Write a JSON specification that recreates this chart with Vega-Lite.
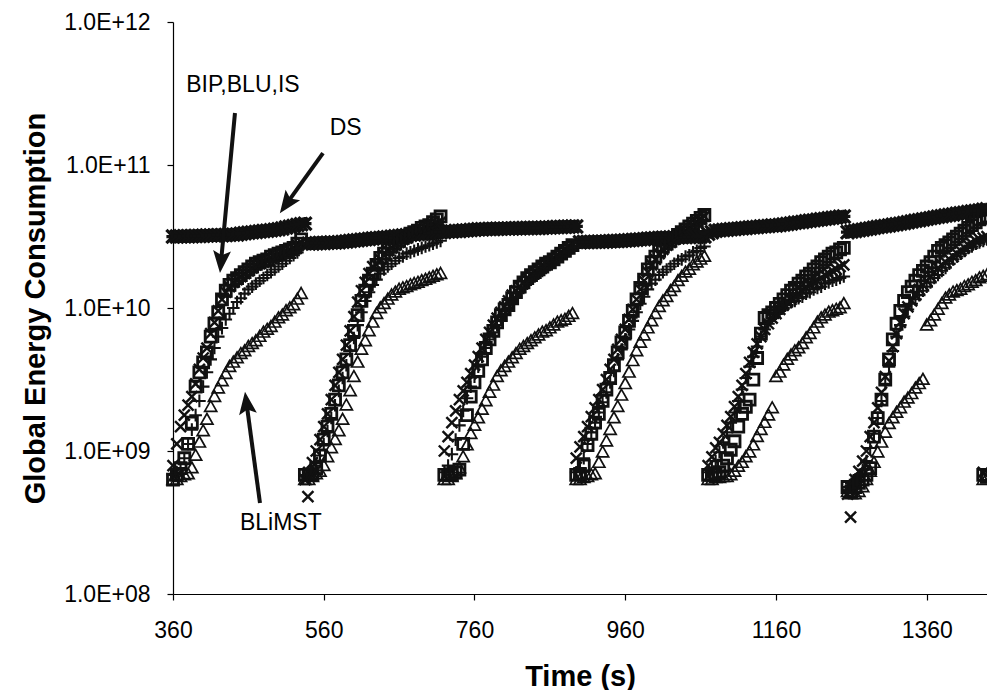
{
  "$schema": "https://vega.github.io/schema/vega-lite/v6.json",
  "width": 814,
  "height": 572,
  "autosize": {"type": "none"},
  "padding": {"left": 173, "top": 22, "right": 0, "bottom": 96},
  "background": "white",
  "config": {
    "view": {"stroke": null},
    "font": "Liberation Sans",
    "axis": {"domainColor": "#000", "tickColor": "#000", "labelColor": "#000", "titleColor": "#000", "labelFont": "Liberation Sans", "titleFont": "Liberation Sans", "grid": false, "tickSize": 6, "domainWidth": 1.2, "tickWidth": 1.2}
  },
  "layer": [
    {
      "data": {"values": [
        {"t":360,"DS":3.16e10,"BIP":6.3e8,"BLU":7.9e8,"IS":6.8e8,"BLiMST":6.3e8},
        {"t":365,"DS":3.16e10,"BIP":6.8e8,"BLU":1.12e9,"IS":7.1e8,"BLiMST":6.3e8},
        {"t":370,"DS":3.17e10,"BIP":7.6e8,"BLU":1.48e9,"IS":7.6e8,"BLiMST":6.6e8},
        {"t":375,"DS":3.17e10,"BIP":8.9e8,"BLU":1.78e9,"IS":8.9e8,"BLiMST":6.8e8},
        {"t":380,"DS":3.18e10,"BIP":1.12e9,"BLU":2.09e9,"IS":1.12e9,"BLiMST":6.9e8},
        {"t":385,"DS":3.18e10,"BIP":1.58e9,"BLU":2.4e9,"IS":1.41e9,"BLiMST":7.6e8},
        {"t":390,"DS":3.19e10,"BIP":2.82e9,"BLU":2.95e9,"IS":1.78e9,"BLiMST":9.3e8},
        {"t":395,"DS":3.19e10,"BIP":3.55e9,"BLU":3.72e9,"IS":2.24e9,"BLiMST":1.15e9},
        {"t":400,"DS":3.2e10,"BIP":4.17e9,"BLU":4.47e9,"IS":2.82e9,"BLiMST":1.38e9},
        {"t":405,"DS":3.21e10,"BIP":4.9e9,"BLU":5.25e9,"IS":3.55e9,"BLiMST":1.66e9},
        {"t":410,"DS":3.22e10,"BIP":6.3e9,"BLU":6.61e9,"IS":4.37e9,"BLiMST":2.04e9},
        {"t":415,"DS":3.22e10,"BIP":7.76e9,"BLU":7.94e9,"IS":5.25e9,"BLiMST":2.4e9},
        {"t":420,"DS":3.23e10,"BIP":9.33e9,"BLU":9.55e9,"IS":6.31e9,"BLiMST":2.75e9},
        {"t":425,"DS":3.23e10,"BIP":1.15e10,"BLU":1.15e10,"IS":7.24e9,"BLiMST":3.09e9},
        {"t":430,"DS":3.24e10,"BIP":1.32e10,"BLU":1.29e10,"IS":8.32e9,"BLiMST":3.47e9},
        {"t":435,"DS":3.25e10,"BIP":1.45e10,"BLU":1.41e10,"IS":9.12e9,"BLiMST":3.89e9},
        {"t":440,"DS":3.26e10,"BIP":1.55e10,"BLU":1.51e10,"IS":1.0e10,"BLiMST":4.17e9},
        {"t":445,"DS":3.27e10,"BIP":1.62e10,"BLU":1.58e10,"IS":1.1e10,"BLiMST":4.47e9},
        {"t":450,"DS":3.31e10,"BIP":1.7e10,"BLU":1.66e10,"IS":1.17e10,"BLiMST":4.79e9},
        {"t":455,"DS":3.33e10,"BIP":1.78e10,"BLU":1.74e10,"IS":1.26e10,"BLiMST":5.01e9},
        {"t":460,"DS":3.36e10,"BIP":1.86e10,"BLU":1.82e10,"IS":1.35e10,"BLiMST":5.37e9},
        {"t":465,"DS":3.38e10,"BIP":1.95e10,"BLU":1.91e10,"IS":1.41e10,"BLiMST":5.62e9},
        {"t":470,"DS":3.4e10,"BIP":2.04e10,"BLU":2.0e10,"IS":1.48e10,"BLiMST":5.89e9},
        {"t":475,"DS":3.43e10,"BIP":2.09e10,"BLU":2.04e10,"IS":1.55e10,"BLiMST":6.31e9},
        {"t":480,"DS":3.45e10,"BIP":2.14e10,"BLU":2.09e10,"IS":1.62e10,"BLiMST":6.76e9},
        {"t":485,"DS":3.47e10,"BIP":2.19e10,"BLU":2.14e10,"IS":1.7e10,"BLiMST":7.08e9},
        {"t":490,"DS":3.5e10,"BIP":2.29e10,"BLU":2.24e10,"IS":1.78e10,"BLiMST":7.41e9},
        {"t":495,"DS":3.52e10,"BIP":2.34e10,"BLU":2.29e10,"IS":1.86e10,"BLiMST":7.94e9},
        {"t":500,"DS":3.55e10,"BIP":2.4e10,"BLU":2.34e10,"IS":1.95e10,"BLiMST":8.51e9},
        {"t":505,"DS":3.6e10,"BIP":2.45e10,"BLU":2.4e10,"IS":2.04e10,"BLiMST":8.91e9},
        {"t":510,"DS":3.65e10,"BIP":2.51e10,"BLU":2.45e10,"IS":2.14e10,"BLiMST":9.55e9},
        {"t":515,"DS":3.7e10,"BIP":2.57e10,"BLU":2.51e10,"IS":2.24e10,"BLiMST":1.0e10},
        {"t":520,"DS":3.75e10,"BIP":2.63e10,"BLU":2.63e10,"IS":2.34e10,"BLiMST":1.05e10},
        {"t":525,"DS":3.8e10,"BIP":2.82e10,"BLU":2.75e10,"IS":2.45e10,"BLiMST":1.15e10},
        {"t":530,"DS":3.85e10,"BIP":3.02e10,"BLU":2.88e10,"IS":2.63e10,"BLiMST":1.26e10},
        {"t":535,"DS":3.89e10,"BIP":6.8e8,"BLU":6.3e8,"IS":6.8e8,"BLiMST":6.3e8},
        {"t":539,"BLU":4.8e8},
        {"t":540,"DS":2.82e10,"BIP":6.8e8,"BLU":7.1e8,"IS":6.9e8,"BLiMST":6.3e8},
        {"t":545,"DS":2.83e10,"BIP":6.9e8,"BLU":8.3e8,"IS":7.2e8,"BLiMST":6.6e8},
        {"t":550,"DS":2.84e10,"BIP":7.6e8,"BLU":1.0e9,"IS":7.9e8,"BLiMST":6.9e8},
        {"t":555,"DS":2.85e10,"BIP":9.3e8,"BLU":1.2e9,"IS":9.3e8,"BLiMST":7.2e8},
        {"t":560,"DS":2.85e10,"BIP":1.2e9,"BLU":1.48e9,"IS":1.12e9,"BLiMST":7.9e8},
        {"t":565,"DS":2.86e10,"BIP":1.48e9,"BLU":1.82e9,"IS":1.38e9,"BLiMST":9.1e8},
        {"t":570,"DS":2.87e10,"BIP":1.82e9,"BLU":2.29e9,"IS":1.7e9,"BLiMST":1.05e9},
        {"t":575,"DS":2.87e10,"BIP":2.29e9,"BLU":2.88e9,"IS":2.09e9,"BLiMST":1.2e9},
        {"t":580,"DS":2.88e10,"BIP":2.88e9,"BLU":3.55e9,"IS":2.63e9,"BLiMST":1.38e9},
        {"t":585,"DS":2.9e10,"BIP":3.55e9,"BLU":4.37e9,"IS":3.24e9,"BLiMST":1.66e9},
        {"t":590,"DS":2.92e10,"BIP":4.37e9,"BLU":5.5e9,"IS":3.98e9,"BLiMST":2.09e9},
        {"t":595,"DS":2.94e10,"BIP":5.5e9,"BLU":6.92e9,"IS":5.01e9,"BLiMST":2.63e9},
        {"t":600,"DS":2.96e10,"BIP":6.92e9,"BLU":8.71e9,"IS":6.17e9,"BLiMST":3.31e9},
        {"t":605,"DS":2.98e10,"BIP":8.91e9,"BLU":1.1e10,"IS":7.59e9,"BLiMST":4.17e9},
        {"t":610,"DS":3.0e10,"BIP":1.12e10,"BLU":1.32e10,"IS":9.33e9,"BLiMST":5.13e9},
        {"t":615,"DS":3.02e10,"BIP":1.32e10,"BLU":1.51e10,"IS":1.12e10,"BLiMST":5.89e9},
        {"t":620,"DS":3.04e10,"BIP":1.55e10,"BLU":1.74e10,"IS":1.29e10,"BLiMST":6.92e9},
        {"t":625,"DS":3.06e10,"BIP":1.74e10,"BLU":1.95e10,"IS":1.45e10,"BLiMST":7.94e9},
        {"t":630,"DS":3.08e10,"BIP":2.0e10,"BLU":2.0e10,"IS":1.58e10,"BLiMST":9.12e9},
        {"t":635,"DS":3.09e10,"BIP":2.24e10,"BLU":2.19e10,"IS":1.74e10,"BLiMST":1.0e10},
        {"t":640,"DS":3.11e10,"BIP":2.4e10,"BLU":2.34e10,"IS":1.86e10,"BLiMST":1.07e10},
        {"t":645,"DS":3.13e10,"BIP":2.57e10,"BLU":2.51e10,"IS":1.95e10,"BLiMST":1.15e10},
        {"t":650,"DS":3.15e10,"BIP":2.69e10,"BLU":2.63e10,"IS":2.04e10,"BLiMST":1.23e10},
        {"t":655,"DS":3.17e10,"BIP":2.82e10,"BLU":2.75e10,"IS":2.14e10,"BLiMST":1.29e10},
        {"t":660,"DS":3.19e10,"BIP":2.95e10,"BLU":2.88e10,"IS":2.24e10,"BLiMST":1.35e10},
        {"t":665,"DS":3.21e10,"BIP":3.09e10,"BLU":3.02e10,"IS":2.29e10,"BLiMST":1.38e10},
        {"t":670,"DS":3.23e10,"BIP":3.16e10,"BLU":3.09e10,"IS":2.4e10,"BLiMST":1.41e10},
        {"t":675,"DS":3.25e10,"BIP":3.31e10,"BLU":3.24e10,"IS":2.45e10,"BLiMST":1.45e10},
        {"t":680,"DS":3.27e10,"BIP":3.39e10,"BLU":3.31e10,"IS":2.51e10,"BLiMST":1.48e10},
        {"t":685,"DS":3.29e10,"BIP":3.47e10,"BLU":3.39e10,"IS":2.57e10,"BLiMST":1.51e10},
        {"t":690,"DS":3.31e10,"BIP":3.63e10,"BLU":3.55e10,"IS":2.63e10,"BLiMST":1.55e10},
        {"t":695,"DS":3.32e10,"BIP":3.72e10,"BLU":3.63e10,"IS":2.69e10,"BLiMST":1.58e10},
        {"t":700,"DS":3.34e10,"BIP":3.8e10,"BLU":3.72e10,"IS":2.75e10,"BLiMST":1.62e10},
        {"t":705,"DS":3.36e10,"BIP":3.98e10,"BLU":3.8e10,"IS":2.82e10,"BLiMST":1.66e10},
        {"t":710,"DS":3.38e10,"BIP":4.17e10,"BLU":3.89e10,"IS":2.88e10,"BLiMST":1.7e10},
        {"t":715,"DS":3.39e10,"BIP":4.37e10,"BLU":3.98e10,"IS":2.95e10,"BLiMST":1.74e10},
        {"t":720,"DS":3.4e10,"BIP":6.8e8,"BLU":1.0e9,"IS":7.1e8,"BLiMST":6.3e8},
        {"t":725,"DS":3.42e10,"BIP":6.8e8,"BLU":1.26e9,"IS":7.9e8,"BLiMST":6.3e8},
        {"t":730,"DS":3.43e10,"BIP":6.9e8,"BLU":1.58e9,"IS":9.5e8,"BLiMST":6.6e8},
        {"t":735,"DS":3.45e10,"BIP":7.1e8,"BLU":1.91e9,"IS":1.2e9,"BLiMST":6.9e8},
        {"t":740,"DS":3.46e10,"BIP":7.4e8,"BLU":2.29e9,"IS":1.51e9,"BLiMST":7.6e8},
        {"t":745,"DS":3.48e10,"BIP":1.12e9,"BLU":2.63e9,"IS":1.91e9,"BLiMST":9.1e8},
        {"t":750,"DS":3.49e10,"BIP":1.78e9,"BLU":3.02e9,"IS":2.34e9,"BLiMST":1.1e9},
        {"t":755,"DS":3.51e10,"BIP":2.4e9,"BLU":3.47e9,"IS":2.82e9,"BLiMST":1.32e9},
        {"t":760,"DS":3.53e10,"BIP":3.02e9,"BLU":3.98e9,"IS":3.31e9,"BLiMST":1.51e9},
        {"t":765,"DS":3.55e10,"BIP":3.63e9,"BLU":4.57e9,"IS":3.89e9,"BLiMST":1.7e9},
        {"t":770,"DS":3.55e10,"BIP":4.37e9,"BLU":5.25e9,"IS":4.57e9,"BLiMST":1.95e9},
        {"t":775,"DS":3.56e10,"BIP":5.25e9,"BLU":6.03e9,"IS":5.25e9,"BLiMST":2.24e9},
        {"t":780,"DS":3.57e10,"BIP":6.03e9,"BLU":6.76e9,"IS":6.03e9,"BLiMST":2.57e9},
        {"t":785,"DS":3.57e10,"BIP":6.92e9,"BLU":7.59e9,"IS":6.76e9,"BLiMST":2.88e9},
        {"t":790,"DS":3.58e10,"BIP":7.94e9,"BLU":8.51e9,"IS":7.59e9,"BLiMST":3.31e9},
        {"t":795,"DS":3.59e10,"BIP":8.91e9,"BLU":9.33e9,"IS":8.32e9,"BLiMST":3.63e9},
        {"t":800,"DS":3.59e10,"BIP":9.77e9,"BLU":1.02e10,"IS":9.12e9,"BLiMST":3.89e9},
        {"t":805,"DS":3.6e10,"BIP":1.05e10,"BLU":1.12e10,"IS":1.0e10,"BLiMST":4.17e9},
        {"t":810,"DS":3.6e10,"BIP":1.17e10,"BLU":1.23e10,"IS":1.1e10,"BLiMST":4.47e9},
        {"t":815,"DS":3.61e10,"BIP":1.29e10,"BLU":1.32e10,"IS":1.2e10,"BLiMST":4.79e9},
        {"t":820,"DS":3.61e10,"BIP":1.41e10,"BLU":1.41e10,"IS":1.29e10,"BLiMST":5.13e9},
        {"t":825,"DS":3.62e10,"BIP":1.51e10,"BLU":1.51e10,"IS":1.38e10,"BLiMST":5.37e9},
        {"t":830,"DS":3.62e10,"BIP":1.62e10,"BLU":1.62e10,"IS":1.48e10,"BLiMST":5.62e9},
        {"t":835,"DS":3.63e10,"BIP":1.7e10,"BLU":1.7e10,"IS":1.58e10,"BLiMST":5.89e9},
        {"t":840,"DS":3.63e10,"BIP":1.78e10,"BLU":1.78e10,"IS":1.66e10,"BLiMST":6.17e9},
        {"t":845,"DS":3.63e10,"BIP":1.86e10,"BLU":1.86e10,"IS":1.74e10,"BLiMST":6.46e9},
        {"t":850,"DS":3.64e10,"BIP":1.95e10,"BLU":1.95e10,"IS":1.82e10,"BLiMST":6.76e9},
        {"t":855,"DS":3.65e10,"BIP":2.04e10,"BLU":2.04e10,"IS":1.91e10,"BLiMST":6.92e9},
        {"t":860,"DS":3.66e10,"BIP":2.09e10,"BLU":2.09e10,"IS":2.0e10,"BLiMST":7.24e9},
        {"t":865,"DS":3.67e10,"BIP":2.19e10,"BLU":2.19e10,"IS":2.09e10,"BLiMST":7.59e9},
        {"t":870,"DS":3.68e10,"BIP":2.29e10,"BLU":2.29e10,"IS":2.19e10,"BLiMST":7.94e9},
        {"t":875,"DS":3.69e10,"BIP":2.4e10,"BLU":2.4e10,"IS":2.29e10,"BLiMST":8.13e9},
        {"t":880,"DS":3.7e10,"BIP":2.51e10,"BLU":2.51e10,"IS":2.4e10,"BLiMST":8.32e9},
        {"t":885,"DS":3.7e10,"BIP":2.63e10,"BLU":2.63e10,"IS":2.51e10,"BLiMST":8.71e9},
        {"t":890,"DS":3.71e10,"BIP":2.75e10,"BLU":2.75e10,"IS":2.63e10,"BLiMST":9.12e9},
        {"t":895,"DS":3.72e10,"BIP":6.8e8,"BLU":8.9e8,"IS":7.1e8,"BLiMST":6.3e8},
        {"t":900,"DS":2.88e10,"BIP":6.9e8,"BLU":1.07e9,"IS":7.6e8,"BLiMST":6.3e8},
        {"t":905,"DS":2.89e10,"BIP":7.9e8,"BLU":1.26e9,"IS":8.9e8,"BLiMST":6.5e8},
        {"t":910,"DS":2.89e10,"BIP":1.1e9,"BLU":1.48e9,"IS":1.12e9,"BLiMST":6.6e8},
        {"t":915,"DS":2.9e10,"BIP":1.32e9,"BLU":1.74e9,"IS":1.35e9,"BLiMST":6.8e8},
        {"t":920,"DS":2.9e10,"BIP":1.58e9,"BLU":2.0e9,"IS":1.58e9,"BLiMST":6.9e8},
        {"t":925,"DS":2.91e10,"BIP":1.82e9,"BLU":2.29e9,"IS":1.86e9,"BLiMST":8.3e8},
        {"t":930,"DS":2.91e10,"BIP":2.24e9,"BLU":2.69e9,"IS":2.19e9,"BLiMST":9.8e8},
        {"t":935,"DS":2.92e10,"BIP":2.69e9,"BLU":3.16e9,"IS":2.57e9,"BLiMST":1.17e9},
        {"t":940,"DS":2.93e10,"BIP":3.24e9,"BLU":3.72e9,"IS":3.02e9,"BLiMST":1.41e9},
        {"t":945,"DS":2.94e10,"BIP":3.98e9,"BLU":4.37e9,"IS":3.63e9,"BLiMST":1.7e9},
        {"t":950,"DS":2.94e10,"BIP":4.9e9,"BLU":5.13e9,"IS":4.37e9,"BLiMST":2.04e9},
        {"t":955,"DS":2.95e10,"BIP":5.75e9,"BLU":6.03e9,"IS":5.13e9,"BLiMST":2.45e9},
        {"t":960,"DS":2.96e10,"BIP":6.76e9,"BLU":7.08e9,"IS":6.03e9,"BLiMST":2.95e9},
        {"t":965,"DS":2.98e10,"BIP":8.13e9,"BLU":8.32e9,"IS":7.08e9,"BLiMST":3.55e9},
        {"t":970,"DS":2.99e10,"BIP":9.55e9,"BLU":9.77e9,"IS":8.13e9,"BLiMST":4.27e9},
        {"t":975,"DS":3.0e10,"BIP":1.15e10,"BLU":1.15e10,"IS":9.33e9,"BLiMST":5.01e9},
        {"t":980,"DS":3.02e10,"BIP":1.38e10,"BLU":1.35e10,"IS":1.07e10,"BLiMST":5.75e9},
        {"t":985,"DS":3.03e10,"BIP":1.58e10,"BLU":1.55e10,"IS":1.2e10,"BLiMST":6.46e9},
        {"t":990,"DS":3.05e10,"BIP":1.86e10,"BLU":1.78e10,"IS":1.35e10,"BLiMST":7.24e9},
        {"t":995,"DS":3.06e10,"BIP":2.09e10,"BLU":2.0e10,"IS":1.48e10,"BLiMST":8.13e9},
        {"t":1000,"DS":3.08e10,"BIP":2.29e10,"BLU":2.19e10,"IS":1.58e10,"BLiMST":9.12e9},
        {"t":1005,"DS":3.09e10,"BIP":2.51e10,"BLU":2.4e10,"IS":1.7e10,"BLiMST":1.02e10},
        {"t":1010,"DS":3.1e10,"BIP":2.69e10,"BLU":2.57e10,"IS":1.78e10,"BLiMST":1.12e10},
        {"t":1015,"DS":3.1e10,"BIP":2.82e10,"BLU":2.75e10,"IS":1.86e10,"BLiMST":1.2e10},
        {"t":1020,"DS":3.11e10,"BIP":2.95e10,"BLU":2.88e10,"IS":1.95e10,"BLiMST":1.32e10},
        {"t":1025,"DS":3.12e10,"BIP":3.09e10,"BLU":3.02e10,"IS":2.04e10,"BLiMST":1.41e10},
        {"t":1030,"DS":3.12e10,"BIP":3.24e10,"BLU":3.16e10,"IS":2.14e10,"BLiMST":1.55e10},
        {"t":1035,"DS":3.13e10,"BIP":3.39e10,"BLU":3.31e10,"IS":2.19e10,"BLiMST":1.66e10},
        {"t":1040,"DS":3.13e10,"BIP":3.55e10,"BLU":3.47e10,"IS":2.29e10,"BLiMST":1.78e10},
        {"t":1045,"DS":3.14e10,"BIP":3.72e10,"BLU":3.63e10,"IS":2.34e10,"BLiMST":1.86e10},
        {"t":1050,"DS":3.15e10,"BIP":3.89e10,"BLU":3.8e10,"IS":2.45e10,"BLiMST":2.0e10},
        {"t":1055,"DS":3.15e10,"BIP":4.07e10,"BLU":3.98e10,"IS":2.51e10,"BLiMST":2.09e10},
        {"t":1060,"DS":3.16e10,"BIP":4.27e10,"BLU":4.17e10,"IS":2.63e10,"BLiMST":2.19e10},
        {"t":1065,"DS":3.16e10,"BIP":4.47e10,"BLU":4.37e10,"IS":2.69e10,"BLiMST":2.29e10},
        {"t":1070,"DS":3.31e10,"BIP":6.8e8,"BLU":7.9e8,"IS":7.1e8,"BLiMST":6.3e8},
        {"t":1075,"DS":3.39e10,"BIP":6.8e8,"BLU":9.1e8,"IS":7.6e8,"BLiMST":6.3e8},
        {"t":1080,"DS":3.47e10,"BIP":6.9e8,"BLU":1.05e9,"IS":8.5e8,"BLiMST":6.5e8},
        {"t":1085,"DS":3.49e10,"BIP":7.1e8,"BLU":1.15e9,"IS":9.8e8,"BLiMST":6.5e8},
        {"t":1090,"DS":3.51e10,"BIP":7.9e8,"BLU":1.32e9,"IS":1.15e9,"BLiMST":6.6e8},
        {"t":1095,"DS":3.53e10,"BIP":8.9e8,"BLU":1.51e9,"IS":1.35e9,"BLiMST":6.6e8},
        {"t":1100,"DS":3.55e10,"BIP":1.02e9,"BLU":1.74e9,"IS":1.58e9,"BLiMST":6.8e8},
        {"t":1105,"DS":3.57e10,"BIP":1.17e9,"BLU":2.04e9,"IS":1.86e9,"BLiMST":7.2e8},
        {"t":1110,"DS":3.59e10,"BIP":1.48e9,"BLU":2.4e9,"IS":2.24e9,"BLiMST":7.8e8},
        {"t":1115,"DS":3.61e10,"BIP":1.82e9,"BLU":2.88e9,"IS":2.69e9,"BLiMST":8.3e8},
        {"t":1120,"DS":3.63e10,"BIP":2.04e9,"BLU":3.47e9,"IS":3.24e9,"BLiMST":9.1e8},
        {"t":1125,"DS":3.65e10,"BIP":2.29e9,"BLU":4.17e9,"IS":3.89e9,"BLiMST":9.8e8},
        {"t":1130,"DS":3.67e10,"BIP":3.16e9,"BLU":4.9e9,"IS":4.57e9,"BLiMST":1.1e9},
        {"t":1135,"DS":3.69e10,"BIP":4.47e9,"BLU":5.62e9,"IS":5.37e9,"BLiMST":1.26e9},
        {"t":1140,"DS":3.71e10,"BIP":6.61e9,"BLU":6.31e9,"IS":6.31e9,"BLiMST":1.41e9},
        {"t":1145,"DS":3.73e10,"BIP":8.51e9,"BLU":7.08e9,"IS":7.08e9,"BLiMST":1.58e9},
        {"t":1150,"DS":3.75e10,"BIP":8.91e9,"BLU":7.76e9,"IS":7.76e9,"BLiMST":1.78e9},
        {"t":1155,"DS":3.77e10,"BIP":9.33e9,"BLU":8.51e9,"IS":8.51e9,"BLiMST":2.0e9},
        {"t":1160,"DS":3.78e10,"BIP":1.0e10,"BLU":9.12e9,"IS":9.12e9,"BLiMST":3.31e9},
        {"t":1165,"DS":3.8e10,"BIP":1.07e10,"BLU":9.77e9,"IS":9.55e9,"BLiMST":3.55e9},
        {"t":1170,"DS":3.83e10,"BIP":1.15e10,"BLU":1.05e10,"IS":1.0e10,"BLiMST":3.98e9},
        {"t":1175,"DS":3.87e10,"BIP":1.23e10,"BLU":1.1e10,"IS":1.05e10,"BLiMST":4.37e9},
        {"t":1180,"DS":3.9e10,"BIP":1.32e10,"BLU":1.15e10,"IS":1.1e10,"BLiMST":4.68e9},
        {"t":1185,"DS":3.94e10,"BIP":1.38e10,"BLU":1.2e10,"IS":1.12e10,"BLiMST":5.01e9},
        {"t":1190,"DS":3.97e10,"BIP":1.48e10,"BLU":1.26e10,"IS":1.17e10,"BLiMST":5.25e9},
        {"t":1195,"DS":4.0e10,"BIP":1.55e10,"BLU":1.32e10,"IS":1.2e10,"BLiMST":5.62e9},
        {"t":1200,"DS":4.04e10,"BIP":1.66e10,"BLU":1.38e10,"IS":1.26e10,"BLiMST":6.17e9},
        {"t":1205,"DS":4.07e10,"BIP":1.74e10,"BLU":1.45e10,"IS":1.29e10,"BLiMST":6.61e9},
        {"t":1210,"DS":4.1e10,"BIP":1.86e10,"BLU":1.51e10,"IS":1.35e10,"BLiMST":7.24e9},
        {"t":1215,"DS":4.14e10,"BIP":1.95e10,"BLU":1.55e10,"IS":1.38e10,"BLiMST":7.94e9},
        {"t":1220,"DS":4.17e10,"BIP":2.09e10,"BLU":1.62e10,"IS":1.41e10,"BLiMST":8.51e9},
        {"t":1225,"DS":4.2e10,"BIP":2.19e10,"BLU":1.7e10,"IS":1.48e10,"BLiMST":8.91e9},
        {"t":1230,"DS":4.24e10,"BIP":2.29e10,"BLU":1.74e10,"IS":1.51e10,"BLiMST":9.33e9},
        {"t":1235,"DS":4.27e10,"BIP":2.4e10,"BLU":1.82e10,"IS":1.55e10,"BLiMST":9.55e9},
        {"t":1240,"DS":4.3e10,"BIP":2.45e10,"BLU":1.86e10,"IS":1.58e10,"BLiMST":9.77e9},
        {"t":1245,"DS":4.34e10,"BIP":2.57e10,"BLU":1.95e10,"IS":1.62e10,"BLiMST":1.0e10},
        {"t":1250,"DS":4.37e10,"BIP":2.63e10,"BLU":2.0e10,"IS":1.66e10,"BLiMST":1.07e10},
        {"t":1255,"DS":3.39e10,"BIP":5.6e8,"BLU":5.0e8,"IS":5.6e8,"BLiMST":5.2e8},
        {"t":1259,"BLU":3.45e8},
        {"t":1260,"DS":3.43e10,"BIP":5.2e8,"BLU":5.6e8,"IS":5.9e8,"BLiMST":5.0e8},
        {"t":1265,"DS":3.46e10,"BIP":5.6e8,"BLU":6.3e8,"IS":6.3e8,"BLiMST":5.0e8},
        {"t":1270,"DS":3.5e10,"BIP":6.0e8,"BLU":7.2e8,"IS":6.8e8,"BLiMST":5.2e8},
        {"t":1275,"DS":3.53e10,"BIP":6.3e8,"BLU":8.5e8,"IS":7.4e8,"BLiMST":5.6e8},
        {"t":1280,"DS":3.57e10,"BIP":6.8e8,"BLU":1.0e9,"IS":8.5e8,"BLiMST":6.3e8},
        {"t":1285,"DS":3.6e10,"BIP":7.6e8,"BLU":1.26e9,"IS":1.05e9,"BLiMST":7.2e8},
        {"t":1290,"DS":3.64e10,"BIP":1.26e9,"BLU":1.58e9,"IS":1.32e9,"BLiMST":8.3e8},
        {"t":1295,"DS":3.68e10,"BIP":1.7e9,"BLU":2.0e9,"IS":1.7e9,"BLiMST":9.8e8},
        {"t":1300,"DS":3.71e10,"BIP":2.29e9,"BLU":2.57e9,"IS":2.24e9,"BLiMST":1.15e9},
        {"t":1305,"DS":3.75e10,"BIP":3.16e9,"BLU":3.31e9,"IS":2.95e9,"BLiMST":1.35e9},
        {"t":1310,"DS":3.78e10,"BIP":4.37e9,"BLU":4.27e9,"IS":3.89e9,"BLiMST":1.55e9},
        {"t":1315,"DS":3.82e10,"BIP":6.03e9,"BLU":5.37e9,"IS":5.01e9,"BLiMST":1.7e9},
        {"t":1320,"DS":3.85e10,"BIP":7.76e9,"BLU":6.61e9,"IS":6.31e9,"BLiMST":1.86e9},
        {"t":1325,"DS":3.89e10,"BIP":9.55e9,"BLU":7.94e9,"IS":7.59e9,"BLiMST":2.0e9},
        {"t":1330,"DS":3.93e10,"BIP":1.12e10,"BLU":9.12e9,"IS":8.71e9,"BLiMST":2.19e9},
        {"t":1335,"DS":3.98e10,"BIP":1.29e10,"BLU":1.02e10,"IS":9.77e9,"BLiMST":2.34e9},
        {"t":1340,"DS":4.02e10,"BIP":1.41e10,"BLU":1.12e10,"IS":1.07e10,"BLiMST":2.51e9},
        {"t":1345,"DS":4.07e10,"BIP":1.55e10,"BLU":1.23e10,"IS":1.15e10,"BLiMST":2.75e9},
        {"t":1350,"DS":4.11e10,"BIP":1.7e10,"BLU":1.35e10,"IS":1.23e10,"BLiMST":2.95e9},
        {"t":1355,"DS":4.16e10,"BIP":1.82e10,"BLU":1.45e10,"IS":1.32e10,"BLiMST":3.16e9},
        {"t":1360,"DS":4.2e10,"BIP":1.95e10,"BLU":1.55e10,"IS":1.41e10,"BLiMST":7.59e9},
        {"t":1365,"DS":4.25e10,"BIP":2.09e10,"BLU":1.66e10,"IS":1.51e10,"BLiMST":8.13e9},
        {"t":1370,"DS":4.29e10,"BIP":2.29e10,"BLU":1.78e10,"IS":1.62e10,"BLiMST":8.91e9},
        {"t":1375,"DS":4.34e10,"BIP":2.51e10,"BLU":1.91e10,"IS":1.7e10,"BLiMST":9.77e9},
        {"t":1380,"DS":4.38e10,"BIP":2.63e10,"BLU":2.0e10,"IS":1.82e10,"BLiMST":1.07e10},
        {"t":1385,"DS":4.43e10,"BIP":2.75e10,"BLU":2.09e10,"IS":1.91e10,"BLiMST":1.17e10},
        {"t":1390,"DS":4.47e10,"BIP":2.88e10,"BLU":2.19e10,"IS":2.04e10,"BLiMST":1.23e10},
        {"t":1395,"DS":4.51e10,"BIP":3.02e10,"BLU":2.29e10,"IS":2.19e10,"BLiMST":1.29e10},
        {"t":1400,"DS":4.56e10,"BIP":3.16e10,"BLU":2.4e10,"IS":2.29e10,"BLiMST":1.32e10},
        {"t":1405,"DS":4.6e10,"BIP":3.31e10,"BLU":2.51e10,"IS":2.4e10,"BLiMST":1.35e10},
        {"t":1410,"DS":4.64e10,"BIP":3.47e10,"BLU":2.63e10,"IS":2.51e10,"BLiMST":1.41e10},
        {"t":1415,"DS":4.69e10,"BIP":3.63e10,"BLU":2.75e10,"IS":2.63e10,"BLiMST":1.45e10},
        {"t":1420,"DS":4.73e10,"BIP":3.8e10,"BLU":2.82e10,"IS":2.69e10,"BLiMST":1.51e10},
        {"t":1425,"DS":4.77e10,"BIP":3.98e10,"BLU":2.95e10,"IS":2.82e10,"BLiMST":1.55e10},
        {"t":1430,"DS":4.81e10,"BIP":4.17e10,"BLU":3.02e10,"IS":2.88e10,"BLiMST":1.62e10},
        {"t":1435,"DS":4.86e10,"BIP":4.27e10,"BLU":3.09e10,"IS":2.95e10,"BLiMST":1.66e10},
        {"t":1440,"DS":4.9e10,"BIP":4.37e10,"BLU":3.16e10,"IS":3.02e10,"BLiMST":1.7e10},
        {"t":1435,"BIP":6.8e8,"BLU":7.1e8,"BLiMST":6.3e8},
        {"t":1440,"BIP":6.6e8,"BLiMST":6.5e8}
      ]},
      "transform": [
        {"fold": ["DS", "BIP", "BLU", "IS", "BLiMST"], "as": ["series", "energy"]},
        {"filter": "isValid(datum.energy)"}
      ],
      "mark": {"type": "point", "filled": false, "clip": false, "opacity": 1, "size": 121},
      "encoding": {
        "x": {"field": "t", "type": "quantitative", "scale": {"domain": [360, 1440], "nice": false, "zero": false},
          "axis": {"title": "Time (s)", "values": [360, 560, 760, 960, 1160, 1360], "format": "d", "labelFontSize": 23, "labelPadding": 19, "titleFontSize": 29, "titleFontWeight": "bold", "titlePadding": 20, "labelFlush": false, "labelOverlap": false}},
        "y": {"field": "energy", "type": "quantitative", "scale": {"type": "log", "domain": [1e8, 1e12], "nice": false},
          "axis": {"title": "Global Energy Consumption", "values": [1e8, 1e9, 1e10, 1e11, 1e12], "labelExpr": "'1.0E+' + (datum.value < 1e10 ? '0' : '') + format(log(datum.value) / LN10, '.0f')", "labelFontSize": 23, "labelPadding": 17, "titleFontSize": 29, "titleFontWeight": "bold", "titlePadding": 13, "labelOverlap": false}},
        "shape": {"field": "series", "type": "nominal", "legend": null,
          "scale": {"domain": ["DS", "BIP", "BLU", "IS", "BLiMST"],
            "range": ["M-1.2,-1.2L1.2,1.2M-1.2,1.2L1.2,-1.2M0,-1.2L0,1.2M-1.2,0L1.2,0", "M-1,-1L1,-1L1,1L-1,1Z", "M-1,-1L1,1M-1,1L1,-1", "M-1.15,0L1.15,0M0,-1.15L0,1.15", "M0,-1.1L1.1,0.85L-1.1,0.85Z"]}},
        "strokeWidth": {"field": "series", "type": "nominal", "legend": null,
          "scale": {"domain": ["DS", "BIP", "BLU", "IS", "BLiMST"], "range": [3.2, 1.7, 1.7, 1.7, 1.7]}},
        "color": {"value": "#111"}
      }
    },
    {
      "data": {"values": [
        {"t": 442.2, "energy": 2.31e11, "t2": 423.7, "energy2": 2.1e10},
        {"t": 559, "energy": 1.21e11, "t2": 510.4, "energy2": 5.33e10},
        {"t": 475.4, "energy": 4.33e8, "t2": 457.5, "energy2": 2.17e9}
      ]},
      "mark": {"type": "rule", "strokeWidth": 4, "color": "#111"},
      "encoding": {
        "x": {"field": "t", "type": "quantitative", "scale": {"domain": [360, 1440], "nice": false, "zero": false}},
        "y": {"field": "energy", "type": "quantitative", "scale": {"type": "log", "domain": [1e8, 1e12], "nice": false}},
        "x2": {"field": "t2"},
        "y2": {"field": "energy2"}
      }
    },
    {
      "data": {"values": [{"t": 423.7, "energy": 2.1e10}]},
      "mark": {"type": "point", "filled": true, "shape": "M0,-1L0.8,1L0,0.6L-0.8,1Z", "size": 500, "angle": 185.3, "color": "#111", "opacity": 1},
      "encoding": {
        "x": {"field": "t", "type": "quantitative", "scale": {"domain": [360, 1440], "nice": false, "zero": false}},
        "y": {"field": "energy", "type": "quantitative", "scale": {"type": "log", "domain": [1e8, 1e12], "nice": false}}
      }
    },
    {
      "data": {"values": [{"t": 510.4, "energy": 5.33e10}]},
      "mark": {"type": "point", "filled": true, "shape": "M0,-1L0.8,1L0,0.6L-0.8,1Z", "size": 500, "angle": 215.6, "color": "#111", "opacity": 1},
      "encoding": {
        "x": {"field": "t", "type": "quantitative", "scale": {"domain": [360, 1440], "nice": false, "zero": false}},
        "y": {"field": "energy", "type": "quantitative", "scale": {"type": "log", "domain": [1e8, 1e12], "nice": false}}
      }
    },
    {
      "data": {"values": [{"t": 457.5, "energy": 2.17e9}]},
      "mark": {"type": "point", "filled": true, "shape": "M0,-1L0.8,1L0,0.6L-0.8,1Z", "size": 500, "angle": 352.3, "color": "#111", "opacity": 1},
      "encoding": {
        "x": {"field": "t", "type": "quantitative", "scale": {"domain": [360, 1440], "nice": false, "zero": false}},
        "y": {"field": "energy", "type": "quantitative", "scale": {"type": "log", "domain": [1e8, 1e12], "nice": false}}
      }
    },
    {
      "data": {"values": [
        {"t": 452.8, "energy": 3.62e11, "label": "BIP,BLU,IS"},
        {"t": 589, "energy": 1.82e11, "label": "DS"},
        {"t": 503, "energy": 3.14e8, "label": "BLiMST"}
      ]},
      "mark": {"type": "text", "fontSize": 23, "font": "Liberation Sans", "color": "#000", "align": "center", "baseline": "middle"},
      "encoding": {
        "x": {"field": "t", "type": "quantitative", "scale": {"domain": [360, 1440], "nice": false, "zero": false}},
        "y": {"field": "energy", "type": "quantitative", "scale": {"type": "log", "domain": [1e8, 1e12], "nice": false}},
        "text": {"field": "label", "type": "nominal"}
      }
    }
  ]
}
